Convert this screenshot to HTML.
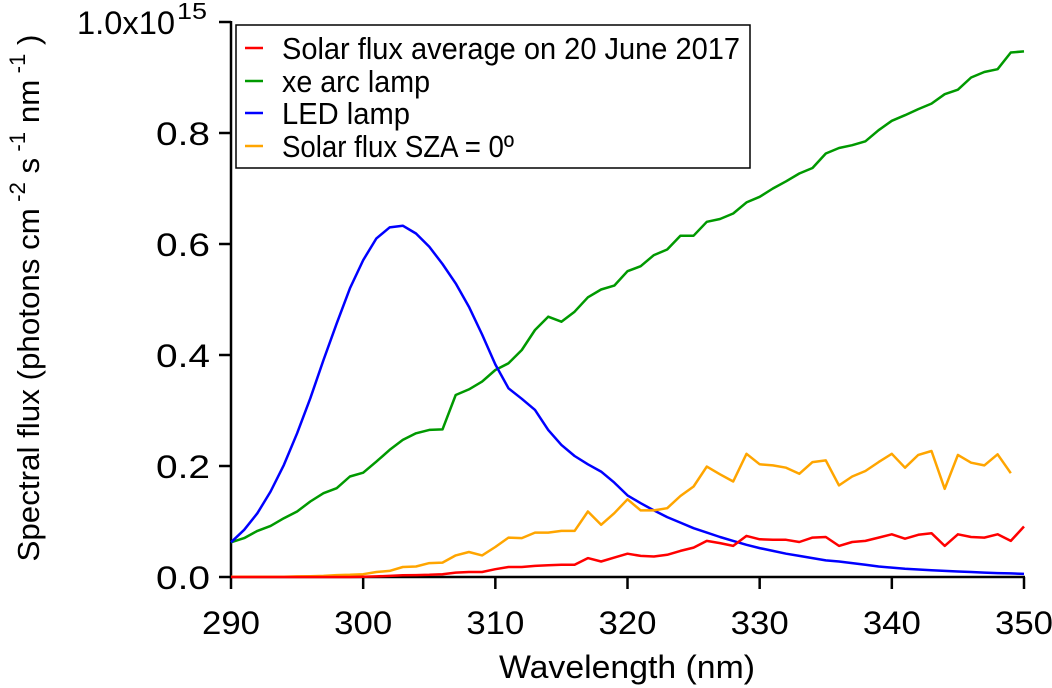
<!DOCTYPE html>
<html><head><meta charset="utf-8"><style>
html,body{margin:0;padding:0;background:#fff;}
svg{display:block;font-family:"Liberation Sans",Arial,sans-serif;}
</style></head><body>
<svg id="chart" width="1052" height="688" viewBox="0 0 1052 688">
<g id="axes"></g>
<g id="series"></g>
<g id="legend">
<rect x="236" y="25" width="514" height="143" fill="#fff" stroke="#000" stroke-width="1.5"/>
<g><line x1="245" y1="48" x2="263" y2="48" stroke="#f00" stroke-width="2.5"/><text x="282" y="59" font-size="31" textLength="458" lengthAdjust="spacingAndGlyphs">Solar flux average on 20 June 2017</text></g>
<g><line x1="245" y1="81" x2="263" y2="81" stroke="#009900" stroke-width="2.5"/><text x="282" y="92" font-size="31" textLength="148" lengthAdjust="spacingAndGlyphs">xe arc lamp</text></g>
<g><line x1="245" y1="113" x2="263" y2="113" stroke="#00f" stroke-width="2.5"/><text x="282" y="124" font-size="31" textLength="128" lengthAdjust="spacingAndGlyphs">LED lamp</text></g>
<g><line x1="245" y1="146" x2="263" y2="146" stroke="#ffa500" stroke-width="2.5"/><text x="282" y="157" font-size="31" textLength="232" lengthAdjust="spacingAndGlyphs">Solar flux SZA = 0º</text></g>
</g>
</svg>
<script>
const wavelengths = [];
for (let w = 290; w <= 350; w++) wavelengths.push(w);
// values in units of 1e14 photons cm-2 s-1 nm-1
const ledLamp = [0.625,0.85,1.15,1.54,2.02,2.59,3.22,3.91,4.57,5.20,5.71,6.10,6.30,6.33,6.19,5.95,5.64,5.29,4.87,4.37,3.83,3.40,3.21,3.01,2.65,2.38,2.18,2.03,1.90,1.70,1.47,1.33,1.20,1.08,0.98,0.88,0.80,0.72,0.65,0.58,0.52,0.47,0.42,0.38,0.34,0.30,0.28,0.25,0.22,0.19,0.17,0.15,0.135,0.12,0.11,0.10,0.09,0.08,0.07,0.065,0.055];
const xeArcLamp = [0.625,0.70,0.83,0.92,1.06,1.18,1.36,1.51,1.60,1.81,1.88,2.08,2.29,2.47,2.59,2.65,2.66,3.28,3.38,3.52,3.73,3.85,4.09,4.45,4.69,4.60,4.78,5.04,5.18,5.25,5.51,5.60,5.80,5.90,6.15,6.15,6.40,6.45,6.55,6.75,6.85,7.00,7.13,7.27,7.37,7.63,7.73,7.78,7.85,8.05,8.22,8.32,8.43,8.53,8.70,8.78,9.00,9.10,9.15,9.45,9.47];
const solarAvg = [0,0,0,0,0,0,0,0,0,0,0.006,0.01,0.02,0.03,0.035,0.04,0.05,0.08,0.09,0.09,0.14,0.18,0.18,0.20,0.21,0.22,0.22,0.34,0.28,0.35,0.42,0.38,0.37,0.40,0.47,0.53,0.65,0.61,0.56,0.74,0.68,0.67,0.67,0.63,0.71,0.72,0.56,0.63,0.65,0.71,0.77,0.69,0.76,0.79,0.56,0.77,0.72,0.71,0.77,0.65,0.91];
const solarSza0 = [0.006,0.006,0.006,0.006,0.006,0.01,0.015,0.02,0.035,0.04,0.05,0.09,0.11,0.18,0.19,0.25,0.26,0.39,0.45,0.39,0.54,0.71,0.70,0.80,0.80,0.83,0.83,1.18,0.94,1.15,1.40,1.20,1.20,1.24,1.46,1.63,1.99,1.85,1.72,2.22,2.03,2.01,1.97,1.86,2.07,2.10,1.65,1.81,1.91,2.07,2.22,1.97,2.20,2.27,1.59,2.20,2.06,2.01,2.21,1.87];
const xTicks = [290,300,310,320,330,340,350];
const yTicks = [0,2,4,6,8,10];
const yTickLabels = ["0.0","0.2","0.4","0.6","0.8","1.0x10"];

const NS = "http://www.w3.org/2000/svg";
const X0 = 231, X1 = 1024, Y0 = 577, Y1 = 22;
const xScale = w => X0 + (w - 290) / 60 * (X1 - X0);
const yScale = v => Y0 - v / 10 * (Y0 - Y1);
function mk(tag, attrs, parent) { const e = document.createElementNS(NS, tag); for (const k in attrs) e.setAttribute(k, attrs[k]); parent.appendChild(e); return e; }
const axes = document.getElementById("axes");
const series = document.getElementById("series");

const yl = mk("line", {x1: X0, y1: Y1 - 1, x2: X0, y2: Y0 + 1, stroke: "#000", "stroke-width": 2.5}, axes);


const xl = mk("line", {x1: X0 - 1, y1: Y0, x2: X1 + 1, y2: Y0, stroke: "#000", "stroke-width": 2.5}, axes);



xTicks.forEach(t => {
  const x = xScale(t);
  const tk = mk("line", {x1: x, y1: Y0, x2: x, y2: Y0 + 12, stroke: "#000", "stroke-width": 2.5}, axes);
  
  
  const lb = mk("text", {x: x, y: 634, "font-size": 32, "text-anchor": "middle", textLength: 58, lengthAdjust: "spacingAndGlyphs"}, axes);
  lb.textContent = t;
  
  
});
yTicks.forEach((t, i) => {
  const y = yScale(t);
  const tk = mk("line", {x1: X0 - 12, y1: y, x2: X0, y2: y, stroke: "#000", "stroke-width": 2.5}, axes);
  
  
  const last = i === yTicks.length - 1;
  const lb = mk("text", {x: last ? 77 : 156, y: y + 12, "font-size": 32, textLength: last ? 98 : 54, lengthAdjust: "spacingAndGlyphs"}, axes);
  lb.textContent = yTickLabels[i];
  
  
  if (last) {
    const ex = mk("text", {x: 177, y: y - 3, "font-size": 23, textLength: 30, lengthAdjust: "spacingAndGlyphs"}, axes);
    ex.textContent = "15";
    
    
  }
});
const xt = mk("text", {x: 627, y: 678, "font-size": 32, "text-anchor": "middle", textLength: 256, lengthAdjust: "spacingAndGlyphs"}, axes);
xt.textContent = "Wavelength (nm)";


const yt = mk("text", {x: 0, y: 0, "font-size": 31, "text-anchor": "middle", transform: "translate(39,298) rotate(-90)"}, axes);


yt.innerHTML = 'Spectral flux (photons cm<tspan dy="-14" font-size="22"> -2</tspan><tspan dy="14"> s</tspan><tspan dy="-14" font-size="22"> -1</tspan><tspan dy="14">  nm</tspan><tspan dy="-14" font-size="22"> -1</tspan><tspan dy="14"> )</tspan>';
yt.setAttribute('textLength', '527');
yt.setAttribute('lengthAdjust', 'spacingAndGlyphs');

function drawSeries(vals, color, name) {
  const pts = vals.map((v, i) => xScale(wavelengths[i]).toFixed(1) + "," + yScale(v).toFixed(1)).join(" ");
  const p = mk("polyline", {points: pts, fill: "none", stroke: color, "stroke-width": 2.5, "stroke-linejoin": "round"}, series);
  
  
}
drawSeries(xeArcLamp, "#009900", "xe-arc-lamp-line");
drawSeries(ledLamp, "#0000ff", "led-lamp-line");
drawSeries(solarSza0, "#ffa500", "solar-flux-sza0-line");
drawSeries(solarAvg, "#ff0000", "solar-flux-average-line");
</script>
</body></html>
